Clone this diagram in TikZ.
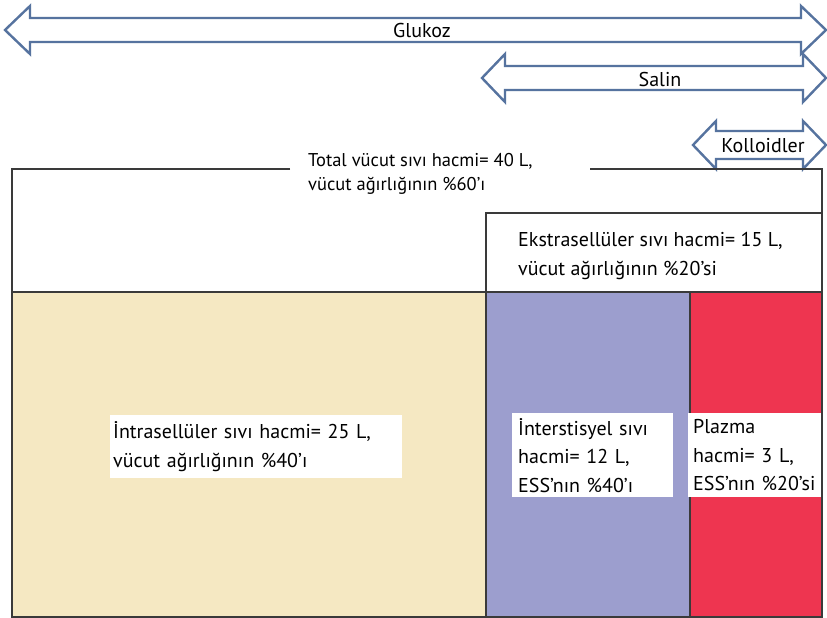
\documentclass[tikz,border=0pt]{standalone}
\usepackage{fontspec}
\setmainfont{PT Sans}
\usetikzlibrary{positioning}
\definecolor{icfbeige}{HTML}{F5E8C2}
\definecolor{isfblue}{HTML}{9C9ECE}
\definecolor{plasmared}{HTML}{EE3550}
\definecolor{arrowblue}{HTML}{56739F}
\definecolor{wallgray}{HTML}{3A3A3A}
\tikzset{
  wall/.style={line width=2pt, color=wallgray},
  arrowline/.style={line width=2.4pt, color=arrowblue, fill=white, line join=miter},
  lbl/.style={font=\fontsize{20}{28.5}\selectfont, align=left, inner sep=0pt},
  whitebox/.style={lbl, fill=white, anchor=north west, inner ysep=0pt}
}
% double block arrow: (left tip : right tip : centre y : shaft half : head half : head length)
\def\dblarrow(#1:#2:#3:#4:#5:#6){\draw[arrowline] (#1,#3) -- ({#1+#6},{#3-#5}) -- ({#1+#6},{#3-#4}) -- ({#2-#6},{#3-#4}) -- ({#2-#6},{#3-#5}) -- (#2,#3) -- ({#2-#6},{#3+#5}) -- ({#2-#6},{#3+#4}) -- ({#1+#6},{#3+#4}) -- ({#1+#6},{#3+#5}) -- cycle;}

\begin{document}
\begin{tikzpicture}[x=1pt, y=-1pt]
			%%%%% START %%%%%
			\useasboundingbox[fill=white] (0,0) rectangle (827,618);
			
			% compartments
			\fill[icfbeige] (12,292) rectangle (486,617);
			\fill[isfblue] (486,292) rectangle (690,617);
			\fill[plasmared] (690,292) rectangle (822,617);
			
			% arrows
			\dblarrow(5:826:30:12:24:25)
			\dblarrow(482:826:78:12:24:23)
			\dblarrow(693:826:145:14:24:23)
			
			\node[lbl] (glukoz) at (422,31) {Glukoz};
			\node[lbl] (salin) at (660,79) {Salin};
			\node[lbl] (kolloid) at (763,146) {Kolloidler};
			
			% labels
			\node[lbl, anchor=west, font=\fontsize{18.5}{24}\selectfont] (total) at (308,174) {Total vücut sıvı hacmi= 40 L,\\vücut ağırlığının \%60’ı};
			\node[lbl, anchor=west] (ekstra) at (518,256) {Ekstrasellüler sıvı hacmi= 15 L,\\vücut ağırlığının \%20’si};
			
			\node[whitebox, inner xsep=3pt, text width=286pt, minimum height=63pt] (intra) at (110,415) {İntrasellüler sıvı hacmi= 25 L,\\vücut ağırlığının \%40’ı};
			\node[whitebox, inner xsep=6pt, text width=149pt, minimum height=84pt] (inter) at (512,413) {İnterstisyel sıvı\\hacmi= 12 L,\\ESS’nın \%40’ı};
			\node[whitebox, inner xsep=5pt, text width=128pt, minimum height=84pt] (plazma) at (688,413) {Plazma\\hacmi= 3 L,\\ESS’nın \%20’si};
			
			% walls
			\draw[wall] (290,169) -- (12,169) -- (12,617) -- (822,617) -- (822,169) -- (590,169);
			\draw[wall] (12,292) -- (822,292);
			\draw[wall] (486,617) -- (486,213) -- (822,213);
			\draw[wall] (690,292) -- (690,413);
			\draw[wall] (690,497) -- (690,617);
			
			%%%%% END %%%%%
\end{tikzpicture}
\end{document}
